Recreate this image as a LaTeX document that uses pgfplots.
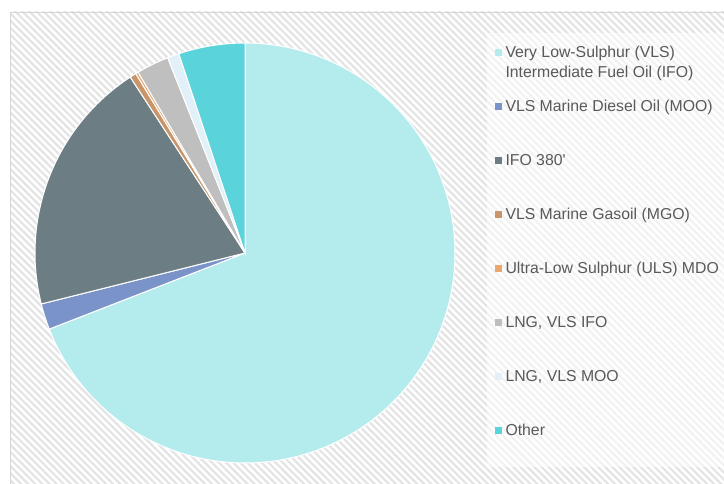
\documentclass[border=0pt]{standalone}
\usepackage{pgfplots}
\pgfplotsset{compat=1.18}
\usetikzlibrary{patterns.meta}
\usepackage{fontspec}
\setmainfont{Liberation Sans}[Ligatures=TeXOff]
\definecolor{c1}{HTML}{B4EBEC}
\definecolor{c2}{HTML}{7A93C9}
\definecolor{c3}{HTML}{6C7E84}
\definecolor{c4}{HTML}{C9966B}
\definecolor{c5}{HTML}{E8A86F}
\definecolor{c6}{HTML}{BFBFBF}
\definecolor{c7}{HTML}{E2F1F9}
\definecolor{c8}{HTML}{5BD3DB}
\definecolor{txt}{HTML}{595959}
\definecolor{hatch}{HTML}{E4E4E4}
\begin{document}
\begin{tikzpicture}[x=1pt,y=1pt]
\useasboundingbox (0,0) rectangle (724,484);
\fill[white] (0,0) rectangle (724,484);
% frame with hatching
\fill[white] (10,0) rectangle (724,472);
\fill[pattern={Lines[angle=-45,distance=5pt,line width=2.2pt]},pattern color=hatch] (10,0) rectangle (724,472);
\draw[hatch!90!black!60!hatch,line width=0.8pt] (10,-2) -- (10,472) -- (726,472);
% legend box
\fill[white,fill opacity=0.55] (487,17) rectangle (724,451);
\begin{axis}[
  anchor=origin, at={(245pt,231pt)},
  x=210pt, y=210pt,
  xmin=-1, xmax=1, ymin=-1, ymax=1,
  hide axis, clip=false,
  legend style={at={(axis cs:1.19,0.983)}, anchor=north west, draw=none, fill=none,
    inner sep=0pt, row sep=39pt,
    nodes={inner sep=0pt, text height=11pt, text depth=4pt, anchor=base west, font=\fontsize{15.8}{20}\selectfont, text=txt}},
  legend cell align=left,
  /tikz/every odd column/.append style={column sep=4pt},
]
% slices: domain = cumulative share in percent, clockwise from 12 o'clock
\addplot[forget plot, fill=c1, draw=white, line width=1pt, domain=0:69.1, samples=140] ({sin(3.6*x)},{cos(3.6*x)}) -- (axis cs:0,0) -- cycle;
\addplot[forget plot, fill=c2, draw=white, line width=1pt, domain=69.1:71.1, samples=10] ({sin(3.6*x)},{cos(3.6*x)}) -- (axis cs:0,0) -- cycle;
\addplot[forget plot, fill=c3, draw=white, line width=1pt, domain=71.1:90.8, samples=50] ({sin(3.6*x)},{cos(3.6*x)}) -- (axis cs:0,0) -- cycle;
\addplot[forget plot, fill=c4, draw=white, line width=1pt, domain=90.8:91.3, samples=5] ({sin(3.6*x)},{cos(3.6*x)}) -- (axis cs:0,0) -- cycle;
\addplot[forget plot, fill=c5, draw=white, line width=1pt, domain=91.3:91.5, samples=5] ({sin(3.6*x)},{cos(3.6*x)}) -- (axis cs:0,0) -- cycle;
\addplot[forget plot, fill=c6, draw=white, line width=1pt, domain=91.5:94.0, samples=10] ({sin(3.6*x)},{cos(3.6*x)}) -- (axis cs:0,0) -- cycle;
\addplot[forget plot, fill=c7, draw=white, line width=1pt, domain=94.0:94.9, samples=5] ({sin(3.6*x)},{cos(3.6*x)}) -- (axis cs:0,0) -- cycle;
\addplot[forget plot, fill=c8, draw=white, line width=1pt, domain=94.9:100, samples=20] ({sin(3.6*x)},{cos(3.6*x)}) -- (axis cs:0,0) -- cycle;
% legend
\addlegendimage{legend image code/.code={\fill[c1] (0pt,2.5pt) rectangle (6pt,8.5pt);}}
\addlegendentry{\smash{\begin{tabular}[t]{@{}l@{}}Very Low-Sulphur (VLS)\\[-0.5pt]Intermediate Fuel Oil (IFO)\end{tabular}}}
\addlegendimage{legend image code/.code={\fill[c2] (0pt,2.5pt) rectangle (6pt,8.5pt);}}
\addlegendentry{VLS Marine Diesel Oil (MOO)}
\addlegendimage{legend image code/.code={\fill[c3] (0pt,2.5pt) rectangle (6pt,8.5pt);}}
\addlegendentry{IFO 380'}
\addlegendimage{legend image code/.code={\fill[c4] (0pt,2.5pt) rectangle (6pt,8.5pt);}}
\addlegendentry{VLS Marine Gasoil (MGO)}
\addlegendimage{legend image code/.code={\fill[c5] (0pt,2.5pt) rectangle (6pt,8.5pt);}}
\addlegendentry{Ultra-Low Sulphur (ULS) MDO}
\addlegendimage{legend image code/.code={\fill[c6] (0pt,2.5pt) rectangle (6pt,8.5pt);}}
\addlegendentry{LNG, VLS IFO}
\addlegendimage{legend image code/.code={\fill[c7] (0pt,2.5pt) rectangle (6pt,8.5pt);}}
\addlegendentry{LNG, VLS MOO}
\addlegendimage{legend image code/.code={\fill[c8] (0pt,2.5pt) rectangle (6pt,8.5pt);}}
\addlegendentry{Other}
\end{axis}
\end{tikzpicture}
\end{document}
